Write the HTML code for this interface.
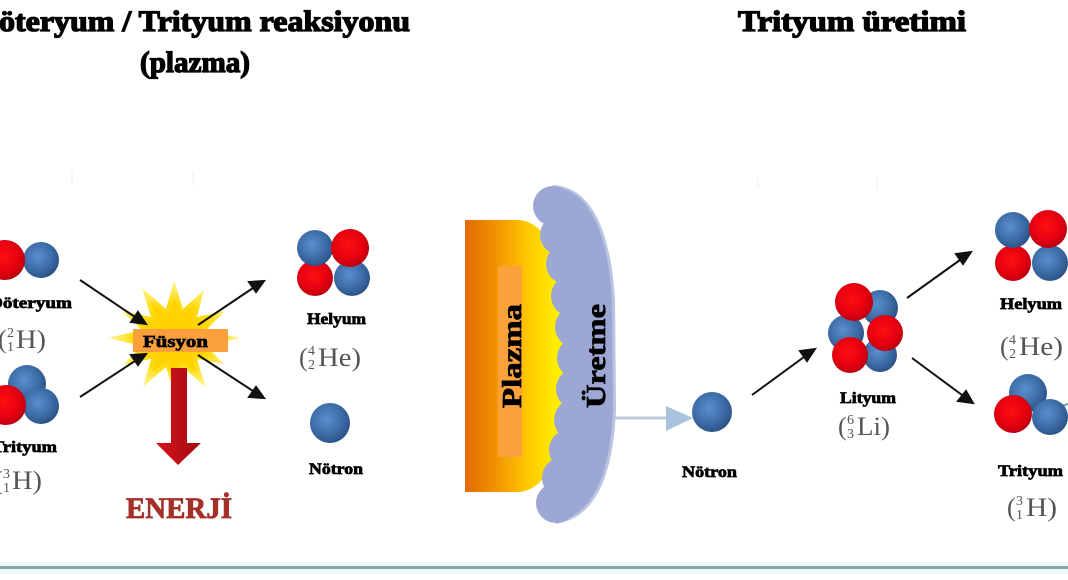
<!DOCTYPE html>
<html><head><meta charset="utf-8"><style>
html,body{margin:0;padding:0;background:#fff;}
svg{display:block;}
text{font-family:"Liberation Serif",serif;}
.b{font-weight:bold;fill:#000;stroke:#000;stroke-width:0.7;}
.t{font-weight:bold;fill:#000;stroke:#000;stroke-width:1.3;}
.iso{fill:#555;}
</style></head><body>
<svg width="1068" height="580" viewBox="0 0 1068 580" xmlns="http://www.w3.org/2000/svg">
<defs>
<radialGradient id="gb" cx="42%" cy="40%" r="62%"><stop offset="0" stop-color="#5b8ecf"/><stop offset="0.6" stop-color="#3e6ea8"/><stop offset="1" stop-color="#2b5287"/></radialGradient>
<radialGradient id="gr" cx="45%" cy="42%" r="62%"><stop offset="0" stop-color="#ff1010"/><stop offset="0.6" stop-color="#e60010"/><stop offset="1" stop-color="#b5000e"/></radialGradient>
<linearGradient id="gp" x1="465" x2="570" y1="0" y2="0" gradientUnits="userSpaceOnUse"><stop offset="0" stop-color="#e36a00"/><stop offset="0.3" stop-color="#f39400"/><stop offset="0.6" stop-color="#ffc800"/><stop offset="0.85" stop-color="#ffec00"/><stop offset="1" stop-color="#fff200"/></linearGradient>
<radialGradient id="gs" cx="50%" cy="50%" r="50%"><stop offset="0" stop-color="#ffc400"/><stop offset="0.6" stop-color="#ffdc10"/><stop offset="1" stop-color="#fff59a"/></radialGradient>
<linearGradient id="ga" x1="0" x2="1" y1="0" y2="0"><stop offset="0" stop-color="#d8141c"/><stop offset="1" stop-color="#a30a10"/></linearGradient>
<linearGradient id="gl" x1="0" x2="1"><stop offset="0" stop-color="#d9bf7a"/><stop offset="1" stop-color="#c9a24e"/></linearGradient>
</defs>

<!-- titles -->
<text class="t" x="-24" y="31" font-size="30" textLength="434" lengthAdjust="spacingAndGlyphs">Döteryum / Trityum reaksiyonu</text>
<text class="t" x="140" y="72" font-size="30" textLength="110" lengthAdjust="spacingAndGlyphs">(plazma)</text>
<text class="t" x="738" y="31" font-size="30" textLength="228" lengthAdjust="spacingAndGlyphs">Trityum üretimi</text>

<!-- faint guide lines -->
<g stroke="#eeeeee" stroke-width="1">
<line x1="72" y1="170" x2="72" y2="185"/><line x1="193" y1="170" x2="193" y2="185"/>
<line x1="758" y1="178" x2="758" y2="188"/><line x1="877" y1="178" x2="877" y2="188"/>
</g>

<!-- Deuterium -->
<circle cx="41" cy="260" r="18" fill="url(#gb)"/>
<circle cx="5" cy="260" r="20" fill="url(#gr)"/>
<text class="b" x="-11" y="308" font-size="16" textLength="83" lengthAdjust="spacingAndGlyphs">Döteryum</text>
<text class="iso" x="-2" y="348" font-size="26">(</text>
<text class="iso" x="7" y="337" font-size="14">2</text>
<text class="iso" x="7" y="351" font-size="14">1</text>
<text class="iso" x="16" y="348" font-size="26" textLength="30" lengthAdjust="spacingAndGlyphs">H)</text>

<!-- Tritium left -->
<circle cx="27" cy="384" r="19" fill="url(#gb)"/>
<circle cx="41" cy="406" r="18" fill="url(#gb)"/>
<circle cx="6" cy="405" r="20" fill="url(#gr)"/>
<text class="b" x="-8" y="452" font-size="16" textLength="65" lengthAdjust="spacingAndGlyphs">Trityum</text>
<text class="iso" x="-6" y="489" font-size="26">(</text>
<text class="iso" x="3" y="478" font-size="14">3</text>
<text class="iso" x="3" y="492" font-size="14">1</text>
<text class="iso" x="12" y="489" font-size="26" textLength="30" lengthAdjust="spacingAndGlyphs">H)</text>

<!-- starburst -->
<polygon fill="url(#gs)" points="240,338 206,346 224,364 197,359 206,388 183,367 174,393 166,367 143,387 151,359 123,365 142,346 108,338 142,330 122,311 151,317 142,288 166,309 174,280 183,309 204,290 197,317 225,311 206,330"/>
<polygon fill="#ffd200" transform="translate(174,338) scale(0.7) translate(-174,-338)" points="240,338 206,346 224,364 197,359 206,388 183,367 174,393 166,367 143,387 151,359 123,365 142,346 108,338 142,330 122,311 151,317 142,288 166,309 174,280 183,309 204,290 197,317 225,311 206,330"/>

<!-- red energy arrow -->
<polygon fill="url(#ga)" points="171,368 187,368 187,443 201,443 178,465 156,443 171,443"/>

<!-- arrows left -->
<g stroke="#111" stroke-width="2" fill="#111">
<line x1="80" y1="280" x2="135" y2="317"/><polygon points="146,324 131,322 138,312"/>
<line x1="80" y1="397" x2="135" y2="361"/><polygon points="146,354 138,365 131,355"/>
<line x1="198" y1="325" x2="253" y2="288"/><polygon points="264,281 256,292 249,282"/>
<line x1="198" y1="355" x2="253" y2="391"/><polygon points="264,398 249,397 256,387"/>
</g>

<!-- Fusion box -->
<rect x="133" y="329" width="95" height="23" fill="#f9a03c"/>
<text class="b" x="143" y="347" font-size="17" textLength="65" lengthAdjust="spacingAndGlyphs">Füsyon</text>

<text x="126" y="518" font-size="30" font-weight="bold" fill="#a5302a" stroke="#a5302a" stroke-width="0.8" textLength="106" lengthAdjust="spacingAndGlyphs">ENERJİ</text>

<!-- Helium left -->
<circle cx="352" cy="278" r="18" fill="url(#gb)"/>
<circle cx="315" cy="278" r="18" fill="url(#gr)"/>
<circle cx="315" cy="248" r="18" fill="url(#gb)"/>
<circle cx="350" cy="248" r="19" fill="url(#gr)"/>
<text class="b" x="307" y="324" font-size="16" textLength="59" lengthAdjust="spacingAndGlyphs">Helyum</text>
<text class="iso" x="299" y="366" font-size="26">(</text>
<text class="iso" x="308" y="355" font-size="14">4</text>
<text class="iso" x="308" y="369" font-size="14">2</text>
<text class="iso" x="318" y="366" font-size="26" textLength="43" lengthAdjust="spacingAndGlyphs">He)</text>

<!-- neutron left + line -->
<line x1="348" y1="419" x2="468" y2="419" stroke="url(#gl)" stroke-width="3"/>
<circle cx="330" cy="423" r="20" fill="url(#gb)"/>
<text class="b" x="309" y="474" font-size="16" textLength="54" lengthAdjust="spacingAndGlyphs">Nötron</text>

<!-- right light-blue line + arrow -->
<line x1="600" y1="418" x2="670" y2="418" stroke="#b9c9da" stroke-width="3"/>
<polygon points="666,406 693,418 666,431" fill="#a9c3df"/>

<!-- plasma -->
<path d="M465,220 L520,220 Q535,222 545,236 Q568,282 570,356 Q568,430 545,476 Q535,490 520,492 L465,492 Z" fill="url(#gp)"/>
<rect x="498" y="266" width="24" height="191" fill="#f9a23c"/>
<text class="b" font-size="27" transform="translate(521,408) rotate(-90)" textLength="104" lengthAdjust="spacingAndGlyphs">Plazma</text>

<!-- breeding blanket blob -->
<path d="M553,185 C592,187 611,232 615,300 L616,410 C613,472 598,517 556,524 L556,503 L563,478 L570,450 L575,420 L577,390 L578,358 L576,330 L572,300 L566,265 L560,235 L553,205 Z" fill="#b9c3e2"/>
<g fill="#9ca8d3">
<path d="M553,187 C589,189 608,232 612,300 L613,410 C610,470 596,514 556,522 L556,503 L563,478 L570,450 L575,420 L577,390 L578,358 L576,330 L572,300 L566,265 L560,235 L553,205 Z"/>
<circle cx="553" cy="206" r="20"/>
<circle cx="560" cy="235" r="20"/>
<circle cx="566" cy="264" r="20"/>
<circle cx="572" cy="296" r="21"/>
<circle cx="576" cy="327" r="21"/>
<circle cx="578" cy="358" r="21"/>
<circle cx="577" cy="389" r="21"/>
<circle cx="575" cy="420" r="21"/>
<circle cx="570" cy="450" r="21"/>
<circle cx="563" cy="478" r="21"/>
<circle cx="556" cy="503" r="20"/>
</g>
<text class="b" font-size="27" transform="translate(605,408) rotate(-90)" textLength="104" lengthAdjust="spacingAndGlyphs">Üretme</text>

<!-- neutron right -->
<circle cx="712" cy="412" r="20" fill="url(#gb)"/>
<text class="b" x="682" y="477" font-size="16" textLength="55" lengthAdjust="spacingAndGlyphs">Nötron</text>

<!-- arrows right -->
<g stroke="#111" stroke-width="2" fill="#111">
<line x1="752" y1="395" x2="804" y2="357"/><polygon points="815,349 807,361 800,351"/>
<line x1="907" y1="298" x2="960" y2="260"/><polygon points="971,252 963,264 956,254"/>
<line x1="912" y1="358" x2="962" y2="395"/><polygon points="973,403 958,401 966,391"/>
</g>

<!-- Lithium -->
<circle cx="880" cy="308" r="18" fill="url(#gb)"/>
<circle cx="880" cy="355" r="17" fill="url(#gb)"/>
<circle cx="846" cy="333" r="18" fill="url(#gb)"/>
<circle cx="850" cy="355" r="18" fill="url(#gr)"/>
<circle cx="885" cy="333" r="18" fill="url(#gr)"/>
<circle cx="854" cy="302" r="19" fill="url(#gr)"/>
<text class="b" x="840" y="403" font-size="16" textLength="56" lengthAdjust="spacingAndGlyphs">Lityum</text>
<text class="iso" x="838" y="435" font-size="26">(</text>
<text class="iso" x="847" y="424" font-size="14">6</text>
<text class="iso" x="847" y="438" font-size="14">3</text>
<text class="iso" x="857" y="435" font-size="26" textLength="33" lengthAdjust="spacingAndGlyphs">Li)</text>

<!-- Helium right -->
<circle cx="1050" cy="263" r="18" fill="url(#gb)"/>
<circle cx="1013" cy="263" r="18" fill="url(#gr)"/>
<circle cx="1013" cy="230" r="18" fill="url(#gb)"/>
<circle cx="1048" cy="229" r="19" fill="url(#gr)"/>
<text class="b" x="1000" y="309" font-size="16" textLength="62" lengthAdjust="spacingAndGlyphs">Helyum</text>
<text class="iso" x="1000" y="355" font-size="26">(</text>
<text class="iso" x="1009" y="344" font-size="14">4</text>
<text class="iso" x="1009" y="358" font-size="14">2</text>
<text class="iso" x="1019" y="355" font-size="26" textLength="44" lengthAdjust="spacingAndGlyphs">He)</text>

<!-- Tritium right -->
<line x1="1062" y1="406" x2="1068" y2="404" stroke="#5aa8a0" stroke-width="2"/>
<circle cx="1028" cy="393" r="19" fill="url(#gb)"/>
<circle cx="1050" cy="417" r="18" fill="url(#gb)"/>
<circle cx="1013" cy="414" r="19" fill="url(#gr)"/>
<text class="b" x="998" y="476" font-size="16" textLength="65" lengthAdjust="spacingAndGlyphs">Trityum</text>
<text class="iso" x="1007" y="516" font-size="26">(</text>
<text class="iso" x="1016" y="505" font-size="14">3</text>
<text class="iso" x="1016" y="519" font-size="14">1</text>
<text class="iso" x="1026" y="516" font-size="26" textLength="31" lengthAdjust="spacingAndGlyphs">H)</text>

<!-- bottom line -->
<rect x="0" y="562" width="1068" height="12" fill="#eefafa"/>
<rect x="0" y="566" width="1068" height="3" fill="#87a69f"/>
</svg>
</body></html>
